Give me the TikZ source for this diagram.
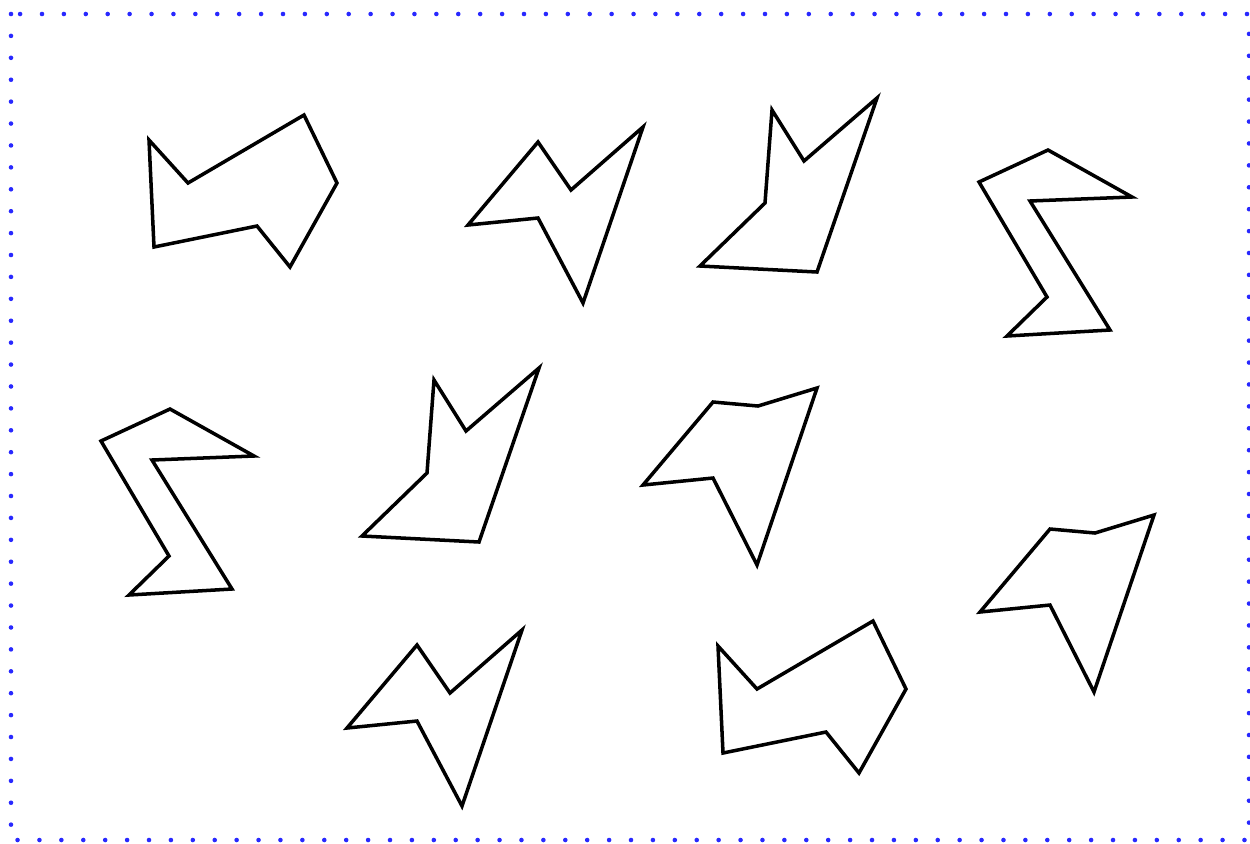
\documentclass[tikz,border=0pt]{standalone}
\usepackage{tikz}
\definecolor{framedotblue}{RGB}{40,40,255}
\tikzset{
  frame-dots/.style={draw=framedotblue, line width=2.6pt, line cap=round,
    dash pattern=on 0pt off 12.47pt},
  outline-shape/.style={draw=black, line width=2pt, line join=miter}
}
\begin{document}
\begin{tikzpicture}[x=0.02cm, y=-0.02cm]
\useasboundingbox (0,0) rectangle (1250,843);
% Dotted frame
\draw[frame-dots] (11,14) rectangle (1249,840);

% Top row
\draw[outline-shape] (149,140) -- (188,183) -- (304,115) -- (337,183) -- (290,267) -- (257,226) -- (154,247) -- cycle;
\draw[outline-shape] (468,225) -- (538,142) -- (571,190) -- (643,127) -- (583,303) -- (538,218) -- cycle;
\draw[outline-shape] (700,266) -- (765,203) -- (772,110) -- (804,161) -- (877,98) -- (817,272) -- cycle;
\draw[outline-shape] (979,182) -- (1048,150) -- (1132,197) -- (1030,201) -- (1110,330) -- (1007,336) -- (1047,297) -- cycle;

% Middle row
\draw[outline-shape] (101,441) -- (170,409) -- (254,456) -- (152,460) -- (232,589) -- (129,595) -- (169,556) -- cycle;
\draw[outline-shape] (362,536) -- (427,473) -- (434,380) -- (466,431) -- (539,368) -- (479,542) -- cycle;
\draw[outline-shape] (643,485) -- (713,402) -- (758,406) -- (817,388) -- (757,565) -- (713,478) -- cycle;

% Bottom row
\draw[outline-shape] (347,728) -- (417,645) -- (450,693) -- (522,630) -- (462,806) -- (417,721) -- cycle;
\draw[outline-shape] (718,646) -- (757,689) -- (873,621) -- (906,689) -- (859,773) -- (826,732) -- (723,753) -- cycle;
\draw[outline-shape] (980,612) -- (1050,529) -- (1095,533) -- (1154,515) -- (1094,692) -- (1050,605) -- cycle;
\end{tikzpicture}
\end{document}
